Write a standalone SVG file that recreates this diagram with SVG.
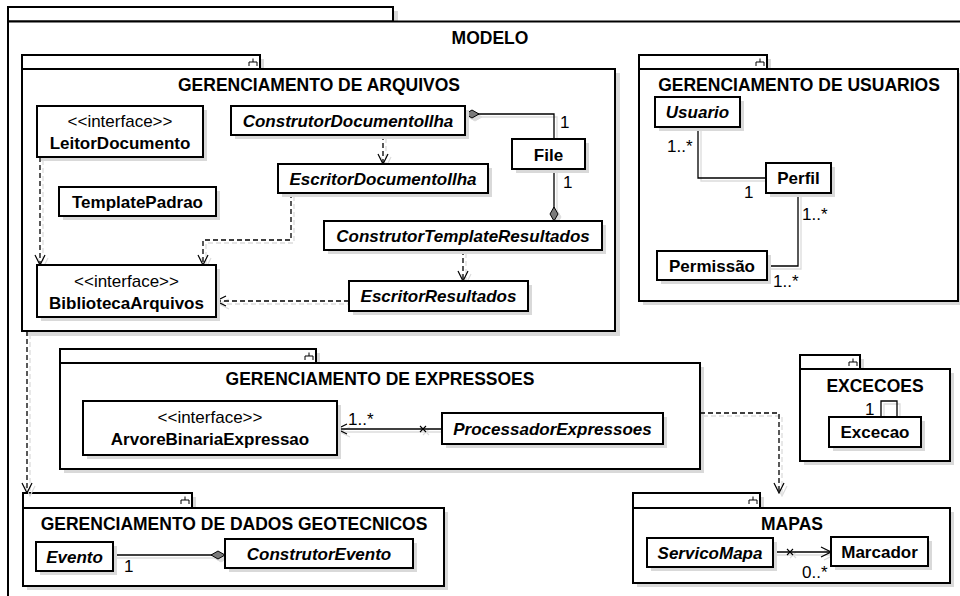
<svg xmlns="http://www.w3.org/2000/svg" xmlns:xlink="http://www.w3.org/1999/xlink" width="960" height="596" viewBox="0 0 960 596">
  <style>
    .frame { fill: #fff; stroke: #000; stroke-width: 2; }
    .sh { fill: #d9d9d9; }
    .box { fill: #fff; stroke: #000; stroke-width: 2; }
    .icon { fill: none; stroke: #000; stroke-width: 1; }
    text { font-family: "Liberation Sans", Arial, sans-serif; fill: #000; }
    .title { font-size: 17.5px; font-weight: bold; text-anchor: middle; }
    .name { font-size: 17px; font-weight: bold; text-anchor: middle; }
    .abs { font-size: 17px; font-weight: bold; font-style: italic; text-anchor: middle; }
    .stereo { font-size: 17px; text-anchor: middle; }
    .mult { font-size: 17px; }
    .assoc { fill: none; stroke: #000; stroke-width: 1.3; }
    .dep { fill: none; stroke: #000; stroke-width: 1.3; stroke-dasharray: 5 3; }
    .cross { fill: none; stroke: #000; stroke-width: 1.1; }
  </style>
  <defs>
    <marker id="open" viewBox="0 0 12 12" refX="11" refY="6" markerWidth="12" markerHeight="12" markerUnits="userSpaceOnUse" orient="auto">
      <path d="M1 1 L11 6 L1 11" fill="none" stroke="#000" stroke-width="1.2"/>
    </marker>
    <marker id="diamond" viewBox="0 0 16 10" refX="1" refY="5" markerWidth="16" markerHeight="10" markerUnits="userSpaceOnUse" orient="auto">
      <path d="M1 5 L8 1 L15 5 L8 9 Z" fill="#7a7a7a" stroke="#000" stroke-width="1"/>
    </marker>
    <filter id="ghost" x="-5%" y="-5%" width="110%" height="110%">
      <feFlood flood-color="#dcdcdc"/>
      <feComposite in2="SourceAlpha" operator="in"/>
    </filter>
  </defs>

  <rect width="960" height="596" fill="#fff"/>

  <!-- outer model frame -->
  <g id="pkg-modelo">
    <rect class="sh" x="393" y="11" width="5" height="11"/>
    <rect class="frame" x="8" y="7" width="385" height="14.5"/>
    <rect class="frame" x="8" y="21.5" width="970" height="590"/>
    <text class="title" x="490" y="44">MODELO</text>
  </g>

  <!-- package: file management -->
  <g id="pkg-arquivos">
    <rect class="sh" x="26" y="59" width="238" height="14"/>
    <rect class="sh" x="26" y="73" width="594" height="263"/>
    <rect class="frame" x="22" y="55" width="238" height="14"/>
    <path class="icon" d="M253 58.5 V62 M249 66 V62 H257 V66"/>
    <rect class="frame" x="22" y="69" width="593" height="262"/>
    <text class="title" x="319" y="91">GERENCIAMENTO DE ARQUIVOS</text>
  </g>

  <!-- package: user management -->
  <g id="pkg-usuarios">
    <rect class="sh" x="643" y="59" width="128" height="14"/>
    <rect class="sh" x="643" y="73" width="319" height="232"/>
    <rect class="frame" x="639" y="55" width="128" height="14"/>
    <path class="icon" d="M760 58.5 V62 M756 66 V62 H764 V66"/>
    <rect class="frame" x="639" y="69" width="319" height="232"/>
    <text class="title" x="799" y="91">GERENCIAMENTO DE USUARIOS</text>
  </g>

  <!-- package: expressions -->
  <g id="pkg-expressoes">
    <rect class="sh" x="64" y="353" width="256" height="14"/>
    <rect class="sh" x="64" y="367" width="640" height="106"/>
    <rect class="frame" x="60" y="349" width="256" height="14"/>
    <path class="icon" d="M309 352.5 V356 M305 360 V356 H313 V360"/>
    <rect class="frame" x="60" y="363" width="640" height="106"/>
    <text class="title" x="380" y="385">GERENCIAMENTO DE EXPRESSOES</text>
  </g>

  <!-- package: exceptions -->
  <g id="pkg-excecoes">
    <rect class="sh" x="804" y="359" width="60" height="14"/>
    <rect class="sh" x="804" y="373" width="150" height="92"/>
    <rect class="frame" x="800" y="355" width="60" height="14"/>
    <path class="icon" d="M853 358.5 V362 M849 366 V362 H857 V366"/>
    <rect class="frame" x="800" y="369" width="150" height="92"/>
    <text class="title" x="875" y="392">EXCECOES</text>
  </g>

  <!-- package: geotechnical data -->
  <g id="pkg-geotecnicos">
    <rect class="sh" x="27" y="497" width="169" height="15"/>
    <rect class="sh" x="27" y="512" width="421" height="78"/>
    <rect class="frame" x="23" y="493" width="169" height="15"/>
    <path class="icon" d="M185 496.5 V500 M181 504 V500 H189 V504"/>
    <rect class="frame" x="23" y="508" width="421" height="78"/>
    <text class="title" x="234" y="530">GERENCIAMENTO DE DADOS GEOTECNICOS</text>
  </g>

  <!-- package: maps -->
  <g id="pkg-mapas">
    <rect class="sh" x="637" y="497" width="127" height="15"/>
    <rect class="sh" x="637" y="512" width="317" height="75"/>
    <rect class="frame" x="633" y="493" width="127" height="15"/>
    <path class="icon" d="M753 496.5 V500 M749 504 V500 H757 V504"/>
    <rect class="frame" x="633" y="508" width="317" height="75"/>
    <text class="title" x="792" y="530">MAPAS</text>
  </g>

  <!-- connector shadows -->
  <use xlink:href="#connectors" href="#connectors" transform="translate(3,3)" filter="url(#ghost)"/>

  <g id="connectors">
    <!-- compositions -->
    <path class="assoc" d="M465 114 H554 V139" marker-start="url(#diamond)"/>
    <path class="assoc" d="M554 221 V169" marker-start="url(#diamond)"/>
    <path class="assoc" d="M225 555 H113" marker-start="url(#diamond)"/>
    <!-- plain associations -->
    <path class="assoc" d="M698 127 V178 H766"/>
    <path class="assoc" d="M798 193 V266 H767"/>
    <path class="assoc" d="M881 417 V401 H897 V417"/>
    <!-- directed associations -->
    <path class="assoc" d="M442 429 H337" marker-end="url(#open)"/>
    <path class="cross" d="M420 426 L426 432 M420 432 L426 426"/>
    <path class="assoc" d="M773 552 H831" marker-end="url(#open)"/>
    <path class="cross" d="M787 549 L793 555 M787 555 L793 549"/>
    <!-- dependencies -->
    <path class="dep" d="M383 135 V164" marker-end="url(#open)"/>
    <path class="dep" d="M291 193 V240 H203 V265" marker-end="url(#open)"/>
    <path class="dep" d="M40 157 V265" marker-end="url(#open)"/>
    <path class="dep" d="M463 250 V281" marker-end="url(#open)"/>
    <path class="dep" d="M349 301 H216" marker-end="url(#open)"/>
    <path class="dep" d="M27 331 V493" marker-end="url(#open)"/>
    <path class="dep" d="M700 413 H779 V493" marker-end="url(#open)"/>
  </g>

  <!-- multiplicities -->
  <g id="labels">
    <text class="mult" x="560" y="128">1</text>
    <text class="mult" x="563" y="188">1</text>
    <text class="mult" x="667" y="152">1..*</text>
    <text class="mult" x="744" y="198">1</text>
    <text class="mult" x="802" y="220">1..*</text>
    <text class="mult" x="773" y="287">1..*</text>
    <text class="mult" x="348" y="425">1..*</text>
    <text class="mult" x="865" y="415">1</text>
    <text class="mult" x="124" y="572">1</text>
    <text class="mult" x="802" y="578">0..*</text>
  </g>

  <!-- classes -->
  <g id="cls-leitor-documento">
    <rect class="sh" x="41" y="110" width="166" height="51"/>
    <rect class="box" x="37" y="106" width="166" height="51"/>
    <text class="stereo" x="120" y="127">&lt;&lt;interface&gt;&gt;</text>
    <text class="name" x="120" y="149">LeitorDocumento</text>
  </g>
  <g id="cls-template-padrao">
    <rect class="sh" x="63" y="191" width="157" height="29"/>
    <rect class="box" x="59" y="187" width="157" height="29"/>
    <text class="name" x="137.5" y="207.5">TemplatePadrao</text>
  </g>
  <g id="cls-biblioteca-arquivos">
    <rect class="sh" x="41" y="269" width="179" height="52"/>
    <rect class="box" x="37" y="265" width="179" height="52"/>
    <text class="stereo" x="126.5" y="287">&lt;&lt;interface&gt;&gt;</text>
    <text class="name" x="126.5" y="309">BibliotecaArquivos</text>
  </g>
  <g id="cls-construtor-documento-ilha">
    <rect class="sh" x="235" y="110" width="234" height="29"/>
    <rect class="box" x="231" y="106" width="234" height="29"/>
    <text class="abs" x="348" y="126.5">ConstrutorDocumentoIlha</text>
  </g>
  <g id="cls-escritor-documento-ilha">
    <rect class="sh" x="282" y="168" width="210" height="29"/>
    <rect class="box" x="278" y="164" width="210" height="29"/>
    <text class="abs" x="383" y="184.5">EscritorDocumentoIlha</text>
  </g>
  <g id="cls-file">
    <rect class="sh" x="516" y="143" width="73" height="30"/>
    <rect class="box" x="512" y="139" width="73" height="30"/>
    <text class="name" x="548.5" y="160.5">File</text>
  </g>
  <g id="cls-construtor-template-resultados">
    <rect class="sh" x="328" y="225" width="278" height="29"/>
    <rect class="box" x="324" y="221" width="278" height="29"/>
    <text class="abs" x="463" y="241.5">ConstrutorTemplateResultados</text>
  </g>
  <g id="cls-escritor-resultados">
    <rect class="sh" x="353" y="285" width="179" height="30"/>
    <rect class="box" x="349" y="281" width="179" height="30"/>
    <text class="abs" x="438.5" y="302">EscritorResultados</text>
  </g>
  <g id="cls-usuario">
    <rect class="sh" x="659" y="101" width="85" height="30"/>
    <rect class="box" x="655" y="97" width="85" height="30"/>
    <text class="abs" x="697.5" y="118">Usuario</text>
  </g>
  <g id="cls-perfil">
    <rect class="sh" x="770" y="167" width="65" height="30"/>
    <rect class="box" x="766" y="163" width="65" height="30"/>
    <text class="name" x="798.5" y="184">Perfil</text>
  </g>
  <g id="cls-permissao">
    <rect class="sh" x="661" y="255" width="110" height="29"/>
    <rect class="box" x="657" y="251" width="110" height="29"/>
    <text class="name" x="712" y="271.5">Permissão</text>
  </g>
  <g id="cls-arvore-binaria-expressao">
    <rect class="sh" x="87" y="405" width="254" height="54"/>
    <rect class="box" x="83" y="401" width="254" height="54"/>
    <text class="stereo" x="210" y="423">&lt;&lt;interface&gt;&gt;</text>
    <text class="name" x="210" y="445">ArvoreBinariaExpressao</text>
  </g>
  <g id="cls-processador-expressoes">
    <rect class="sh" x="446" y="417" width="221" height="31"/>
    <rect class="box" x="442" y="413" width="221" height="31"/>
    <text class="abs" x="552.5" y="434.5">ProcessadorExpressoes</text>
  </g>
  <g id="cls-excecao">
    <rect class="sh" x="833" y="421" width="92" height="30"/>
    <rect class="box" x="829" y="417" width="92" height="30"/>
    <text class="name" x="875" y="438">Excecao</text>
  </g>
  <g id="cls-evento">
    <rect class="sh" x="40" y="546" width="77" height="29"/>
    <rect class="box" x="36" y="542" width="77" height="29"/>
    <text class="abs" x="74.5" y="562.5">Evento</text>
  </g>
  <g id="cls-construtor-evento">
    <rect class="sh" x="229" y="543" width="188" height="29"/>
    <rect class="box" x="225" y="539" width="188" height="29"/>
    <text class="abs" x="319" y="559.5">ConstrutorEvento</text>
  </g>
  <g id="cls-servico-mapa">
    <rect class="sh" x="651" y="542" width="126" height="29"/>
    <rect class="box" x="647" y="538" width="126" height="29"/>
    <text class="abs" x="710" y="558.5">ServicoMapa</text>
  </g>
  <g id="cls-marcador">
    <rect class="sh" x="835" y="541" width="97" height="29"/>
    <rect class="box" x="831" y="537" width="97" height="29"/>
    <text class="name" x="879.5" y="557.5">Marcador</text>
  </g>
</svg>
